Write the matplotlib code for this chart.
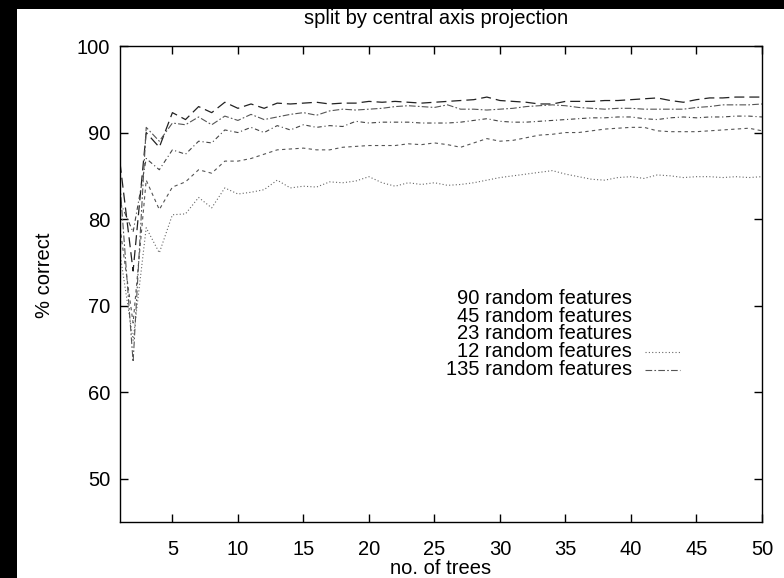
# split by central axis projection - % correct vs no. of trees

import matplotlib
matplotlib.use('Agg')
import matplotlib.pyplot as plt
from matplotlib.patches import Rectangle

plt.rcParams['font.family'] = ['Liberation Sans', 'DejaVu Sans']

# data
trees = list(range(1, 51))

feat_90 = [86.5, 74.0, 90.0, 88.3, 92.3, 91.5, 93.0, 92.3, 93.5, 92.8,
           93.3, 92.8, 93.4, 93.3, 93.4, 93.5, 93.3, 93.4, 93.4, 93.6,
           93.5, 93.6, 93.5, 93.4, 93.5, 93.6, 93.7, 93.8, 94.1, 93.7,
           93.6, 93.5, 93.3, 93.3, 93.6, 93.6, 93.6, 93.7, 93.7, 93.8,
           93.9, 94.0, 93.7, 93.5, 93.8, 94.0, 94.0, 94.1, 94.1, 94.1]

feat_135 = [84.0, 63.5, 90.6, 89.0, 91.1, 90.9, 91.8, 90.9, 91.9, 91.4,
            92.1, 91.5, 91.8, 92.1, 92.3, 92.0, 92.5, 92.7, 92.6, 92.7,
            92.8, 93.0, 93.1, 93.0, 92.9, 93.2, 92.7, 92.7, 92.6, 92.7,
            92.8, 93.0, 93.1, 93.2, 93.1, 92.9, 92.8, 92.7, 92.8, 92.8,
            92.7, 92.7, 92.7, 92.7, 92.9, 93.0, 93.2, 93.2, 93.2, 93.3]

feat_45 = [82.0, 78.5, 87.0, 85.7, 88.0, 87.5, 89.0, 88.8, 90.3, 90.0,
           90.6, 90.0, 90.8, 90.3, 90.9, 90.6, 90.8, 90.7, 91.3, 91.1,
           91.2, 91.2, 91.2, 91.1, 91.1, 91.1, 91.2, 91.4, 91.6, 91.3,
           91.2, 91.2, 91.3, 91.4, 91.5, 91.6, 91.7, 91.7, 91.8, 91.8,
           91.6, 91.5, 91.7, 91.8, 91.7, 91.8, 91.8, 91.9, 91.9, 91.8]

feat_23 = [79.0, 68.0, 84.5, 81.1, 83.7, 84.3, 85.7, 85.3, 86.7, 86.7,
           87.0, 87.5, 88.0, 88.1, 88.2, 88.0, 88.0, 88.3, 88.4, 88.5,
           88.5, 88.5, 88.7, 88.6, 88.8, 88.6, 88.3, 88.8, 89.3, 89.0,
           89.1, 89.4, 89.7, 89.8, 90.0, 90.0, 90.2, 90.4, 90.5, 90.6,
           90.6, 90.2, 90.1, 90.1, 90.1, 90.2, 90.3, 90.4, 90.5, 90.2]

feat_12 = [76.0, 66.0, 79.0, 76.1, 80.5, 80.6, 82.5, 81.3, 83.6, 82.9,
           83.1, 83.4, 84.5, 83.6, 83.8, 83.7, 84.3, 84.2, 84.4, 84.9,
           84.2, 83.8, 84.2, 84.0, 84.2, 83.9, 84.0, 84.2, 84.5, 84.8,
           85.0, 85.2, 85.4, 85.6, 85.2, 84.9, 84.6, 84.5, 84.8, 84.9,
           84.7, 85.1, 85.0, 84.8, 84.9, 84.9, 84.8, 84.9, 84.8, 84.9]

labels = ['90 random features', '45 random features', '23 random features',
          '12 random features', '135 random features']

x_ticks = [5, 10, 15, 20, 25, 30, 35, 40, 45, 50]
y_ticks = [50, 60, 70, 80, 90, 100]

W, H = 784, 578
fig = plt.figure(figsize=(W / 100, H / 100), dpi=100, facecolor='black')

# white page with the black border on the left and top
fig.patches.append(Rectangle((17 / W, 0), 1, 1 - 9 / H, transform=fig.transFigure,
                             facecolor='white', edgecolor='none', zorder=-1))

ax = fig.add_axes([120 / W, 1 - 522 / H, 642 / W, 476 / H])
ax.set_facecolor('white')

# line styles
style_90 = dict(color='#222222', lw=0.9, dashes=(8, 4))
style_135 = dict(color='#555555', lw=0.8, dashes=(6, 2, 1.5, 2))
style_45 = dict(color='#444444', lw=0.8, dashes=(4, 2.5, 1, 2.5))
style_23 = dict(color='#555555', lw=0.8, dashes=(3, 3))
style_12 = dict(color='#666666', lw=0.8, dashes=(1, 2))

ax.plot(trees, feat_90, **style_90)
ax.plot(trees, feat_45, **style_45)
ax.plot(trees, feat_23, **style_23)
ax.plot(trees, feat_12, **style_12)
ax.plot(trees, feat_135, **style_135)

ax.set_xlim(1, 50)
ax.set_ylim(45, 100)
ax.set_xticks(x_ticks)
ax.set_yticks(y_ticks)

for s in ax.spines.values():
    s.set_linewidth(1.0)
    s.set_color('black')

ax.tick_params(direction='in', length=6, width=1.0, top=True, right=True,
               labelsize=14.5, colors='black')
ax.tick_params(axis='x', pad=13)
ax.tick_params(axis='y', pad=7)

# manual key as one right aligned block (tight line spacing like gnuplot)
ax.text((632 - 120) / 642, 1 - (334 - 46) / 476, '\n'.join(labels),
        transform=ax.transAxes, ha='right', va='center', multialignment='right',
        linespacing=0.93, fontsize=14.5)

# only the last two samples show in the original
ax.plot([0.818, 0.872], [1 - (352 - 46) / 476] * 2, transform=ax.transAxes, **style_12)
ax.plot([0.818, 0.872], [1 - (370 - 46) / 476] * 2, transform=ax.transAxes, **style_135)

fig.text(436 / W, 1 - 18 / H, 'split by central axis projection',
         ha='center', va='center', fontsize=14.5)
fig.text(44 / W, 1 - 275 / H, '% correct', rotation=90,
         ha='center', va='center', fontsize=14.5)
fig.text(441 / W, 1 - 568 / H, 'no. of trees', ha='center', va='center', fontsize=14.5)

fig.savefig('out.png', dpi=100, facecolor=fig.get_facecolor())
